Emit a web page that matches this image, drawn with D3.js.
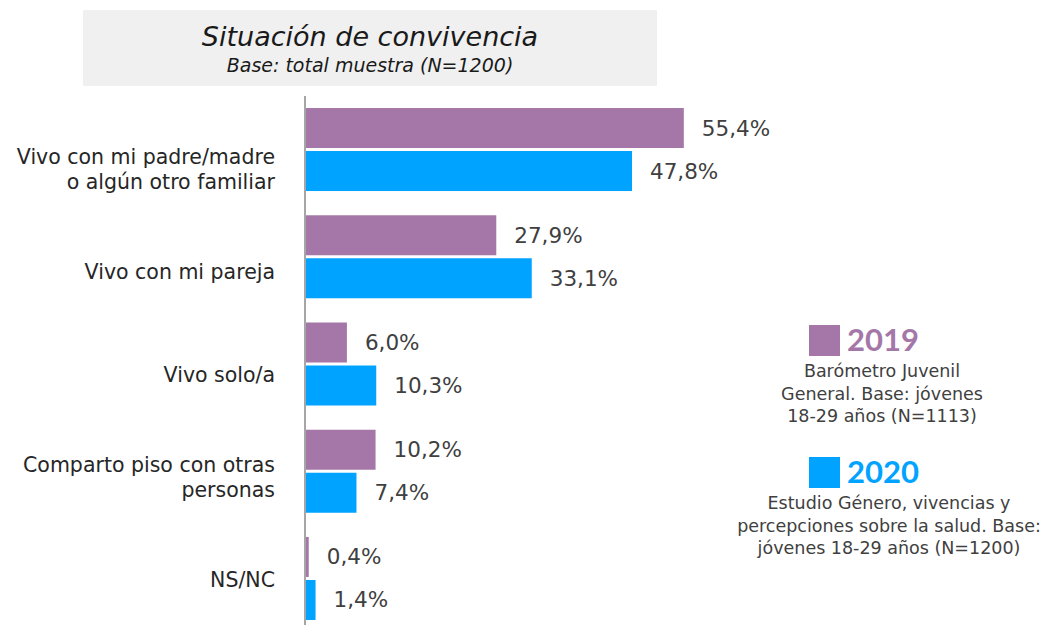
<!DOCTYPE html>
<html>
<head>
<meta charset="UTF-8">
<script src="https://d3js.org/d3.v7.min.js"></script>
<style>
  body { margin: 0; background: #fff; }
  svg text { font-family: "DejaVu Sans", "Noto Sans", sans-serif; }
  svg text.year { font-family: "Lato", "Noto Sans", sans-serif; }
</style>
</head>
<body>
<div id="chart"></div>
<script>
// categories and values (percent)
var categories = [
  "Vivo con mi padre/madre\no algún otro familiar",
  "Vivo con mi pareja",
  "Vivo solo/a",
  "Comparto piso con otras\npersonas",
  "NS/NC"
];
var series = ["2019", "2020"];
var values2019 = [55.4, 27.9, 6.0, 10.2, 0.4];
var values2020 = [47.8, 33.1, 10.3, 7.4, 1.4];
var colors = ["#a577a8", "#00a3ff"];
var legendNotes = [
  ["Barómetro Juvenil", "General. Base: jóvenes", "18-29 años (N=1113)"],
  ["Estudio Género, vivencias y", "percepciones sobre la salud. Base:", "jóvenes 18-29 años (N=1200)"]
];
var title = "Situación de convivencia";
var subtitle = "Base: total muestra (N=1200)";

var width = 1045, height = 625;

var svg = d3.select("#chart").append("svg")
    .attr("width", width)
    .attr("height", height);

var es = d3.formatLocale({decimal: ",", thousands: ".", grouping: [3], currency: ["", "€"]});
var fmt = es.format(".1f");

// title box
svg.append("rect")
    .attr("x", 83).attr("y", 10)
    .attr("width", 574).attr("height", 76)
    .attr("fill", "#f0f0f0");
svg.append("text")
    .attr("x", 370).attr("y", 46)
    .attr("text-anchor", "middle")
    .attr("font-style", "italic")
    .attr("font-size", 27)
    .attr("fill", "#1a1a1a")
    .text(title);
svg.append("text")
    .attr("x", 370).attr("y", 72)
    .attr("text-anchor", "middle")
    .attr("font-style", "italic")
    .attr("font-size", 19)
    .attr("fill", "#1a1a1a")
    .text(subtitle);

// scales
var x = d3.scaleLinear().domain([0, 100]).range([306, 306 + 682]);
var y0 = d3.scaleBand().domain(categories).range([97.3, 630.7])
    .paddingInner(0.226).paddingOuter(0.1);
var y1 = d3.scaleBand().domain(series).range([0, y0.bandwidth()]).paddingInner(3 / 43);
// labels sit on their own axis positions in the original
var yLabel = d3.scalePoint().domain(categories).range([169, 580]);

var data = categories.map(function(c, i) {
  return {cat: c, vals: [values2019[i], values2020[i]]};
});

var groups = svg.selectAll(".grp").data(data).enter().append("g")
    .attr("class", "grp")
    .attr("transform", function(d) { return "translate(0," + y0(d.cat) + ")"; });

groups.selectAll("rect").data(function(d) {
    return d.vals.map(function(v, j) { return {s: series[j], v: v, j: j}; });
  }).enter().append("rect")
    .attr("x", x(0))
    .attr("y", function(d) { return y1(d.s); })
    .attr("width", function(d) { return x(d.v) - x(0); })
    .attr("height", y1.bandwidth())
    .attr("fill", function(d) { return colors[d.j]; });

groups.selectAll(".val").data(function(d) {
    return d.vals.map(function(v, j) { return {s: series[j], v: v}; });
  }).enter().append("text")
    .attr("class", "val")
    .attr("x", function(d) { return x(d.v) + 18; })
    .attr("y", function(d) { return y1(d.s) + y1.bandwidth() / 2; })
    .attr("dy", "0.35em")
    .attr("font-size", 21.5)
    .attr("fill", "#404040")
    .text(function(d) { return fmt(d.v) + "%"; });

// category labels
var labels = svg.selectAll(".cat").data(categories).enter().append("text")
    .attr("class", "cat")
    .attr("text-anchor", "end")
    .attr("font-size", 20.5)
    .attr("fill", "#262626");
labels.each(function(c) {
  var lines = c.split("\n");
  var t = d3.select(this);
  var lh = 25;
  var top = yLabel(c) - (lines.length - 1) * lh / 2;
  lines.forEach(function(l, k) {
    t.append("tspan")
      .attr("x", 275)
      .attr("y", top + k * lh)
      .attr("dy", "0.35em")
      .text(l);
  });
});

// axis line
svg.append("line")
    .attr("x1", 305).attr("x2", 305)
    .attr("y1", 96).attr("y2", 625)
    .attr("stroke", "#a6a6a6")
    .attr("stroke-width", 2);

// legend
var legendY = [325, 457];
var legendCx = [882, 889];
series.forEach(function(s, i) {
  var g = svg.append("g").attr("transform", "translate(809," + legendY[i] + ")");
  g.append("rect")
    .attr("width", 31).attr("height", 31)
    .attr("fill", colors[i]);
  g.append("text")
    .attr("class", "year")
    .attr("x", 38).attr("y", 26)
    .attr("font-size", 31)
    .attr("font-weight", "bold")
    .attr("fill", colors[i])
    .text(s);
  legendNotes[i].forEach(function(l, k) {
    svg.append("text")
      .attr("x", legendCx[i])
      .attr("y", legendY[i] + 52 + k * 22.5)
      .attr("text-anchor", "middle")
      .attr("font-size", 17.5)
      .attr("fill", "#404040")
      .text(l);
  });
});
</script>
</body>
</html>
